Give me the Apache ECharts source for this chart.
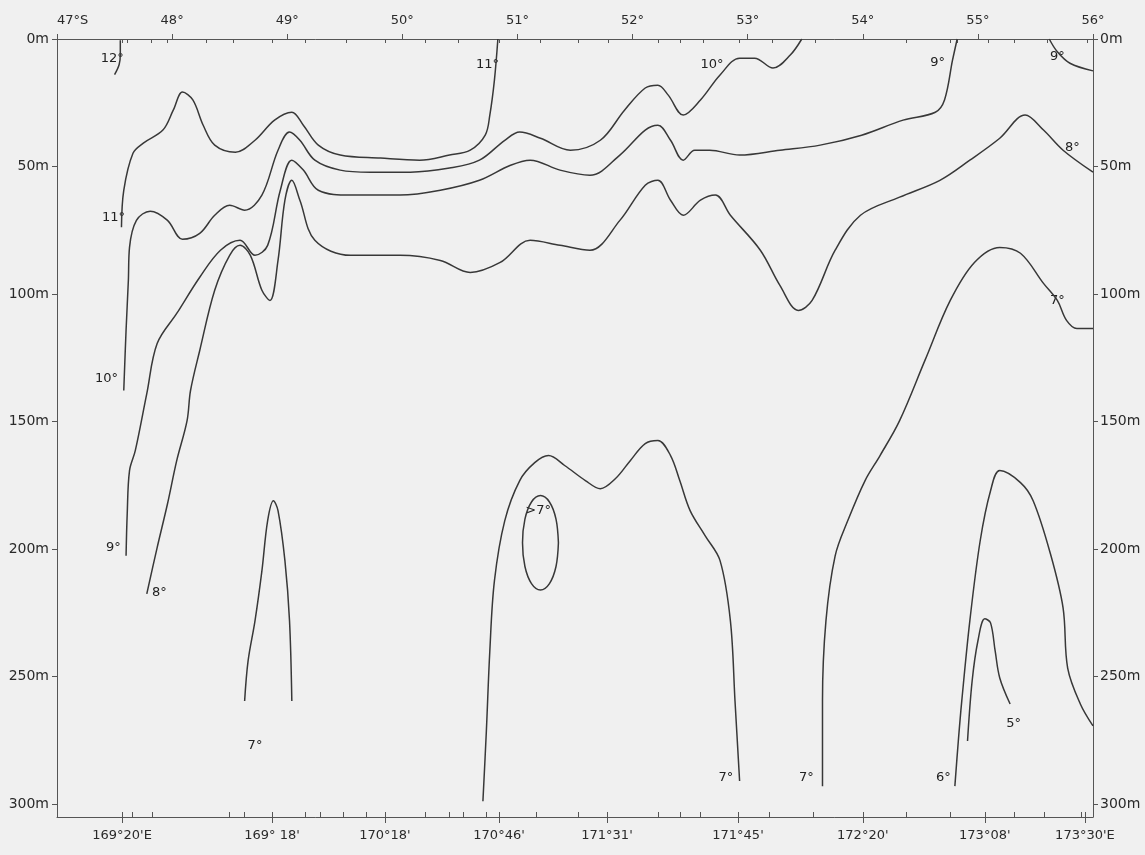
<!DOCTYPE html>
<html><head><meta charset="utf-8">
<script src="https://cdn.jsdelivr.net/npm/echarts@6/dist/echarts.min.js"></script>
<style>html,body{margin:0;padding:0;background:#f0f0f0}#c{width:1145px;height:855px}</style>
</head><body><div id="c"></div>
<script>
// ---- axis data ----
const latTicks = [47,48,49,50,51,52,53,54,55,56];
const latLabels = ['47°S','48°','49°','50°','51°','52°','53°','54°','55°','56°'];
const depthTicks = [0,50,100,150,200,250,300];
const depthLabels = ['0m','50m','100m','150m','200m','250m','300m'];
const lonTickLats = [47.565,48.868,49.849,50.840,51.778,52.916,54.0,55.06,55.93];
const lonTickLabels = ["169°20'E","169° 18'","170°18'","170°46'","171°31'","171°45'","172°20'","173°08'","173°30'E"];
const topStations = [47.57,47.61,47.82,47.96,48.30,48.53,48.87,49.16,49.51,49.85,50.20,50.49,50.84,51.20,51.53,51.79,52.22,52.41,52.61,52.93,53.21,53.59,54.38,54.76,54.82,55.09,55.32,55.60,55.95];
const bottomStations = [47.65,47.83,48.50,48.63,49.16,49.29,49.49,49.69,50.20,50.41,50.53,50.73,51.16,51.53,52.22,52.41,52.59,53.19,53.57,54.38,54.76,55.32,55.58,55.90];

// ---- isotherms [latitude °S, depth m] ----
const iso12 = [[47.55,0.5],[47.55,6],[47.54,10],[47.50,14]];
const iso11 = [[47.56,73.8],[47.58,59.3],[47.66,44.8],[47.75,40.8],[47.92,35.7],[48.01,27.9],[48.09,20.8],[48.18,23.9],[48.27,33.8],[48.37,41.6],[48.55,44.4],[48.72,39.7],[48.89,31.8],[49.04,28.7],[49.14,33.8],[49.27,41.6],[49.46,45.5],[49.81,46.7],[50.15,47.5],[50.41,45.5],[50.59,43.6],[50.72,37.7],[50.76,29.8],[50.80,16.1],[50.83,0]];
const iso10 = [[47.58,137.8],[47.60,114.2],[47.62,94.6],[47.63,81.7],[47.69,71.1],[47.81,67.5],[47.96,71.1],[48.09,78.5],[48.24,76.2],[48.37,69.1],[48.50,65.2],[48.63,67.1],[48.78,61.2],[48.92,43.6],[49.02,36.5],[49.11,39.7],[49.24,47.5],[49.46,51.4],[49.72,52.2],[50.07,52.2],[50.41,50.6],[50.67,47.5],[50.89,39.7],[51.02,36.5],[51.20,38.9],[51.46,43.6],[51.72,39.7],[51.93,27.9],[52.11,19.2],[52.22,18.1],[52.31,22.0],[52.44,29.8],[52.59,23.9],[52.76,14.1],[52.93,7.5],[53.06,7.5],[53.22,11.4],[53.37,6.3],[53.47,0]];
const iso9 = [[47.60,202.6],[47.61,186.1],[47.63,169.2],[47.68,161.4],[47.78,139.0],[47.87,119.4],[48.04,107.6],[48.24,93.4],[48.42,82.8],[48.59,78.9],[48.72,84.8],[48.83,80.9],[48.94,59.3],[49.04,47.5],[49.14,51.4],[49.27,59.3],[49.55,61.2],[49.98,61.2],[50.33,59.3],[50.67,55.4],[50.94,49.5],[51.11,47.5],[51.37,51.4],[51.63,53.4],[51.89,45.5],[52.11,35.7],[52.22,33.8],[52.33,39.7],[52.44,47.5],[52.54,43.6],[52.67,43.6],[52.93,45.5],[53.28,43.6],[53.63,41.6],[53.99,37.7],[54.35,31.8],[54.63,28.7],[54.71,23.9],[54.78,8.2],[54.82,0]];
const iso9b = [[55.62,0],[55.69,5],[55.80,9.5],[56.0,12.5]];
const iso8 = [[47.78,217.5],[47.87,199.4],[47.96,182.2],[48.04,165.3],[48.13,149.6],[48.16,137.8],[48.24,122.1],[48.37,98.5],[48.50,84.8],[48.59,80.9],[48.68,84.8],[48.78,98.5],[48.85,102.5],[48.92,86.8],[48.98,63.2],[49.04,55.4],[49.11,63.2],[49.24,78.9],[49.55,84.8],[49.98,84.8],[50.33,86.8],[50.59,91.5],[50.85,87.6],[51.11,78.9],[51.37,80.9],[51.63,82.8],[51.89,71.1],[52.11,57.3],[52.22,55.4],[52.33,63.2],[52.44,69.1],[52.59,63.2],[52.72,61.2],[52.85,69.1],[53.11,82.8],[53.28,96.6],[53.44,106.4],[53.56,102.5],[53.76,82.8],[53.98,69.1],[54.32,62.0],[54.67,55.4],[54.93,47.5],[55.19,38.9],[55.41,29.8],[55.57,35.7],[55.74,43.6],[56.0,52.2]];
const iso7left = [[48.63,259.5],[48.66,243.8],[48.72,228.1],[48.78,208.5],[48.83,188.8],[48.88,181.0],[48.92,184.9],[48.98,204.5],[49.02,228.1],[49.04,259.5]];
const iso7mid = [[50.70,298.8],[50.73,271.3],[50.76,239.9],[50.80,212.4],[50.89,188.8],[51.02,173.1],[51.15,166.1],[51.27,163.3],[51.41,167.2],[51.59,173.1],[51.72,176.3],[51.85,172.4],[51.98,165.3],[52.11,158.6],[52.22,157.4],[52.33,163.3],[52.41,173.1],[52.50,184.9],[52.63,194.7],[52.76,204.5],[52.85,228.1],[52.89,259.5],[52.93,290.9]];
const isoAbove7 = [[51.356,197.5],[51.335,206.8],[51.278,213.5],[51.20,216],[51.122,213.5],[51.065,206.8],[51.044,197.5],[51.065,188.2],[51.122,181.5],[51.20,179],[51.278,181.5],[51.335,188.2],[51.356,197.5]];
const iso7right = [[53.65,292.9],[53.65,259.5],[53.68,228.1],[53.76,202.6],[53.87,188.8],[54.02,173.1],[54.15,163.3],[54.32,149.6],[54.54,126.0],[54.76,102.5],[54.97,87.6],[55.19,81.7],[55.37,84.0],[55.57,95.8],[55.69,102.5],[55.77,110.3],[55.86,113.5],[56.0,113.5]];
const iso6 = [[54.80,292.9],[54.83,275.2],[54.86,259.5],[54.93,228.1],[55.02,196.7],[55.11,177.1],[55.19,169.2],[55.37,173.9],[55.48,181.0],[55.63,201.8],[55.74,223.0],[55.78,246.6],[55.89,260.7],[56.0,269.3]];
const iso5 = [[54.91,275.2],[54.95,251.7],[55.00,236.0],[55.06,227.3],[55.11,228.9],[55.15,239.9],[55.19,250.5],[55.28,260.7]];

// ---- isotherm labels ----
const labelTexts = ['12°','11°','10°','9°','8°','7°','11°','10°','9°','9°','8°','7°','>7°','7°','7°','6°','5°'];
const labelLats = [47.48,47.49,47.43,47.49,47.89,48.72,50.74,52.69,54.65,55.69,55.82,55.69,51.18,52.81,53.51,54.70,55.31];
const labelDepths = [7.5,69.9,133.1,199.4,217.1,277.2,10.2,10.2,9.4,7.1,42.4,102.5,184.9,289.7,289.7,289.7,268.5];

const isotherms = [iso12, iso11, iso10, iso9, iso9b, iso8, iso7left, iso7mid, isoAbove7, iso7right, iso6, iso5];

const FONT = 'DejaVu Sans';
const INK = '#383838';
const chart = echarts.init(document.getElementById('c'));

function lonLabel(v) {
  let best = 0;
  for (let i = 1; i < lonTickLats.length; i++) {
    if (Math.abs(lonTickLats[i] - v) < Math.abs(lonTickLats[best] - v)) best = i;
  }
  return lonTickLabels[best];
}
function latLabel(v) {
  const i = latTicks.indexOf(Math.round(v));
  return i >= 0 ? latLabels[i] : '';
}
function depthLabel(v) {
  const i = depthTicks.indexOf(Math.round(v));
  return i >= 0 ? depthLabels[i] : '';
}

const axisLineStyle = {color: '#555', width: 1};
const baseX = {type: 'value', min: 47, max: 56, splitLine: {show: false}, gridIndex: 0};

chart.setOption({
  animation: false,
  backgroundColor: '#f0f0f0',
  grid: {left: 57, right: 52, top: 39, bottom: 38, containLabel: false},
  xAxis: [
    Object.assign({}, baseX, {
      position: 'top',
      axisLine: {show: true, lineStyle: axisLineStyle},
      axisTick: {show: true, inside: false, length: 5, customValues: latTicks, lineStyle: axisLineStyle},
      axisLabel: {show: true, customValues: latTicks, formatter: latLabel, margin: 12,
        alignMinLabel: 'left',
        color: '#2a2a2a', fontFamily: FONT, fontSize: 13}
    }),
    Object.assign({}, baseX, {
      position: 'top',
      axisLine: {show: false},
      axisTick: {show: true, inside: true, length: 4, customValues: topStations, lineStyle: axisLineStyle},
      axisLabel: {show: false}
    }),
    Object.assign({}, baseX, {
      position: 'bottom',
      axisLine: {show: true, lineStyle: axisLineStyle},
      axisTick: {show: true, inside: false, length: 6, customValues: lonTickLats, lineStyle: axisLineStyle},
      axisLabel: {show: true, customValues: lonTickLats, formatter: lonLabel, margin: 12,
        color: '#2a2a2a', fontFamily: FONT, fontSize: 13}
    }),
    Object.assign({}, baseX, {
      position: 'bottom',
      axisLine: {show: false},
      axisTick: {show: true, inside: true, length: 5, customValues: bottomStations.concat(lonTickLats), lineStyle: axisLineStyle},
      axisLabel: {show: false}
    })
  ],
  yAxis: [
    {
      type: 'value', inverse: true, min: 0, max: 305, position: 'left',
      splitLine: {show: false},
      axisLine: {show: true, lineStyle: axisLineStyle},
      axisTick: {show: true, inside: false, length: 5, customValues: depthTicks, lineStyle: axisLineStyle},
      axisLabel: {show: true, customValues: depthTicks, formatter: depthLabel, margin: 8,
        color: '#2a2a2a', fontFamily: FONT, fontSize: 14}
    },
    {
      type: 'value', inverse: true, min: 0, max: 305, position: 'right',
      splitLine: {show: false},
      axisLine: {show: true, lineStyle: axisLineStyle},
      axisTick: {show: true, inside: false, length: 5, customValues: depthTicks, lineStyle: axisLineStyle},
      axisLabel: {show: true, customValues: depthTicks, formatter: depthLabel, margin: 7,
        color: '#2a2a2a', fontFamily: FONT, fontSize: 14}
    }
  ],
  series: isotherms.map(function (d) {
    return {
      type: 'line', data: d, xAxisIndex: 0, yAxisIndex: 0,
      smooth: 0.35, symbol: 'none', silent: true,
      lineStyle: {color: INK, width: 1.5}
    };
  }).concat([{
    type: 'scatter', xAxisIndex: 0, yAxisIndex: 0, symbolSize: 1,
    itemStyle: {color: 'rgba(0,0,0,0)'}, silent: true,
    data: labelTexts.map(function (t, i) { return {name: t, value: [labelLats[i], labelDepths[i]]}; }),
    label: {show: true, position: 'inside', formatter: '{b}', color: '#222', opacity: 1, fontFamily: FONT, fontSize: 13}
  }])
});
</script></body></html>
